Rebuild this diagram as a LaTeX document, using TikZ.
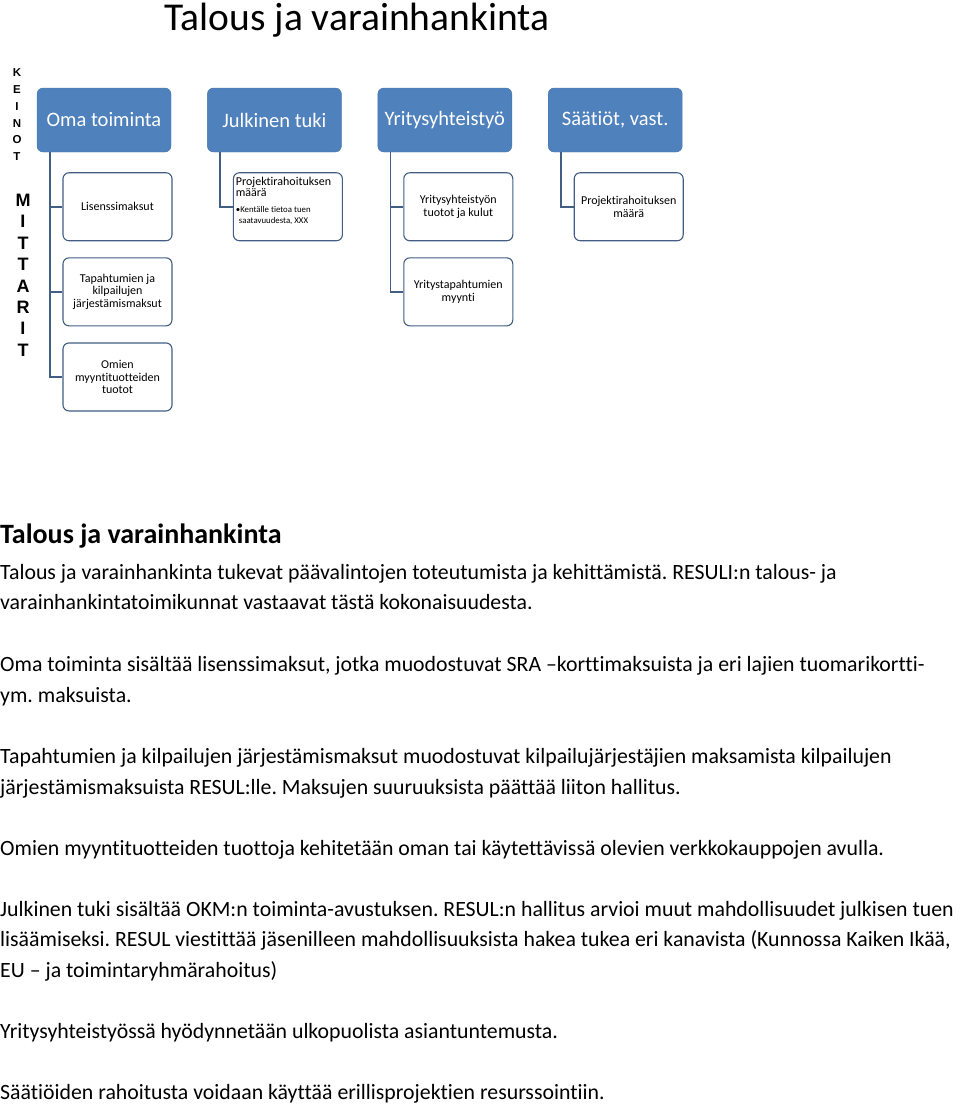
\documentclass[tikz,border=0pt]{standalone}
\usepackage{fontspec}
\setmainfont{Carlito}[Ligatures=NoCommon]
\newfontfamily\kirjainfont{Liberation Sans}
\usetikzlibrary{positioning}
\definecolor{talousBlue}{RGB}{79,129,189}
\definecolor{talousLine}{RGB}{66,94,132}
\frenchspacing

\begin{document}
\begin{tikzpicture}[
  x=1pt, y=-1pt,
  node distance=36pt,
  keino/.style={draw=talousBlue!90!black, fill=talousBlue, rounded corners=6pt,
                minimum width=134pt, minimum height=64pt, inner sep=0pt,
                text=white, font=\fontsize{20.5}{22}\selectfont},
  mittari/.style={draw=talousLine, line width=1.1pt, fill=white, rounded corners=6pt,
                  minimum width=109pt, minimum height=68pt, inner sep=2pt,
                  align=center, font=\fontsize{12}{12.5}\selectfont},
  conn/.style={draw=talousLine, line width=1.6pt},
  rivi/.style={anchor=west, inner sep=0pt, font=\fontsize{21.8}{25}\selectfont,
               text height=0.75em, text depth=0.25em},
  kirjain/.style={inner sep=0pt, font=\kirjainfont\bfseries\fontsize{11.5}{11.5}\selectfont}
]
\useasboundingbox (0,0) rectangle (960,1109);

% otsikko
\node[anchor=base, inner sep=0pt, font=\fontsize{39.5}{42}\selectfont] (otsikko) at (357,30) {Talous ja varainhankinta};

% keinot
\node[keino] (oma) at (104,120) {Oma toiminta};
\node[keino, right=of oma] (julkinen) {Julkinen tuki};
\node[keino, right=of julkinen] (yritys) {Yritysyhteistyö};
\node[keino, right=of yritys] (saatiot) {Säätiöt, vast.};

% mittarit
\node[mittari, below=20pt of oma, xshift=13.5pt] (lisenssi) {Lisenssimaksut};
\node[mittari, below=16pt of lisenssi] (tapahtumat) {Tapahtumien ja\\kilpailujen\\järjestämismaksut};
\node[mittari, below=16pt of tapahtumat] (myynti) {Omien\\myyntituotteiden\\tuotot};
\node[mittari, below=20pt of julkinen, xshift=13.5pt, align=flush left, inner sep=2.5pt, text width=104pt] (projekti)
  {\fontsize{12}{11}\selectfont Projektirahoituksen\\määrä\\[5pt]
   \fontsize{8.8}{11}\selectfont •Kentälle tietoa tuen\\\hspace*{3pt}saatavuudesta, XXX\\\mbox{}};
\node[mittari, below=20pt of yritys, xshift=13.5pt] (tuotot) {Yritysyhteistyön\\tuotot ja kulut};
\node[mittari, below=16pt of tuotot] (yritystap) {Yritystapahtumien\\myynti};
\node[mittari, below=20pt of saatiot, xshift=13.5pt] (saatioraha) {Projektirahoituksen\\määrä};

\draw[conn] ([xshift=13pt]oma.south west) |- (lisenssi.west);
\draw[conn] ([xshift=13pt]oma.south west) |- (tapahtumat.west);
\draw[conn] ([xshift=13pt]oma.south west) |- (myynti.west);
\draw[conn] ([xshift=13pt]julkinen.south west) |- (projekti.west);
\draw[conn] ([xshift=13pt]yritys.south west) |- (tuotot.west);
\draw[conn] ([xshift=13pt]yritys.south west) |- (yritystap.west);
\draw[conn] ([xshift=13pt]saatiot.south west) |- (saatioraha.west);

% sivun kirjaimet
\foreach \k [count=\i] in {K,E,I,N,O,T}
  \node[kirjain] (keino\i) at (17, 56+16.8*\i) {\k};
\foreach \m [count=\i] in {M,I,T,T,A,R,I,T}
  \node[kirjain, font=\kirjainfont\bfseries\fontsize{18}{18}\selectfont] (mitta\i) at (23, 179+21.4*\i) {\m};

% teksti
\node[rivi, font=\bfseries\fontsize{28}{30}\selectfont] (otsikko2) at (0,541) {Talous ja varainhankinta};
\node[rivi] (r1) at (0,577) {Talous ja varainhankinta tukevat päävalintojen toteutumista ja kehittämistä. RESULI:n talous- ja};
\node[rivi] (r2) at (0,607) {varainhankintatoimikunnat vastaavat tästä kokonaisuudesta.};
\node[rivi] (r3) at (0,669) {Oma toiminta sisältää lisenssimaksut, jotka muodostuvat SRA –korttimaksuista ja eri lajien tuomarikortti-};
\node[rivi] (r4) at (0,700) {ym. maksuista.};
\node[rivi] (r5) at (0,761) {Tapahtumien ja kilpailujen järjestämismaksut muodostuvat kilpailujärjestäjien maksamista kilpailujen};
\node[rivi] (r6) at (0,792) {järjestämismaksuista RESUL:lle. Maksujen suuruuksista päättää liiton hallitus.};
\node[rivi] (r7) at (0,853) {Omien myyntituotteiden tuottoja kehitetään oman tai käytettävissä olevien verkkokauppojen avulla.};
\node[rivi] (r8) at (0,914) {Julkinen tuki sisältää OKM:n toiminta-avustuksen. RESUL:n hallitus arvioi muut mahdollisuudet julkisen tuen};
\node[rivi] (r9) at (0,944) {lisäämiseksi. RESUL viestittää jäsenilleen mahdollisuuksista hakea tukea eri kanavista (Kunnossa Kaiken Ikää,};
\node[rivi] (r10) at (0,975) {EU – ja toimintaryhmärahoitus)};
\node[rivi] (r11) at (0,1036) {Yritysyhteistyössä hyödynnetään ulkopuolista asiantuntemusta.};
\node[rivi] (r12) at (0,1097) {Säätiöiden rahoitusta voidaan käyttää erillisprojektien resurssointiin.};
\end{tikzpicture}
\end{document}
